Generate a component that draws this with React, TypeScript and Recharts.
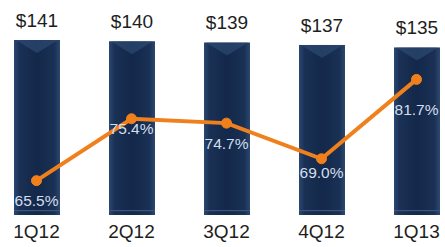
import React from 'react';
import { ComposedChart, Bar, Line, XAxis, YAxis, LabelList } from 'recharts';

const categories = ['1Q12', '2Q12', '3Q12', '4Q12', '1Q13'];
const amounts = [141, 140, 139, 137, 135];
const ratios = [65.5, 75.4, 74.7, 69.0, 81.7];

const data = categories.map((q, i) => ({ q, amount: amounts[i], ratio: ratios[i] }));

const PCT_DY = [20, 10, 20, 14, 30];

const BarShape = (props: any) => {
  const { x, y, width, height } = props;
  if (width == null || height == null) return null;
  return (
    <g>
      <rect x={x} y={y} width={width} height={height} fill="url(#barGrad)" />
      <polygon
        points={`${x + 2},${y} ${x + width - 2},${y} ${x + width / 2},${y + 13}`}
        fill="#3a5a84"
        opacity={0.45}
      />
      <rect x={x} y={y + height - 5} width={width} height={1.2} fill="#3b5679" />
    </g>
  );
};

const PctLabel = (props: any) => {
  const { x, y, value, index } = props;
  return (
    <text
      x={x}
      y={y + PCT_DY[index]}
      textAnchor="middle"
      dominantBaseline="central"
      fill="#d3deec"
      fontSize={15.5}
      fontFamily="Liberation Sans, Arial, sans-serif"
    >
      {Number(value).toFixed(1)}%
    </text>
  );
};

export default function App() {
  return (
    <div style={{ position: 'absolute', left: 0, top: 0, width: 445, height: 247, overflow: 'hidden', background: '#fff' }}>
      <div style={{ position: 'absolute', left: -11.5, top: 0 }}>
        <ComposedChart
          width={475}
          height={247}
          data={data}
          margin={{ top: 40, right: 0, bottom: 2, left: 0 }}
        >
          <defs>
            <linearGradient id="barGrad" x1="0" y1="0" x2="1" y2="0">
              <stop offset="0%" stopColor="#2b4870" />
              <stop offset="12%" stopColor="#1a3155" />
              <stop offset="50%" stopColor="#13284a" />
              <stop offset="88%" stopColor="#1a3155" />
              <stop offset="100%" stopColor="#2b4870" />
            </linearGradient>
          </defs>
          <XAxis
            dataKey="q"
            height={30}
            axisLine={false}
            tickLine={false}
            tickMargin={4}
            tick={{ fontSize: 19, fill: '#1e1e1e', fontFamily: 'Liberation Sans, Arial, sans-serif' }}
          />
          <YAxis yAxisId="left" hide domain={[0, 141]} />
          <YAxis yAxisId="right" hide orientation="right" domain={[60, 88]} />
          <Bar
            yAxisId="left"
            dataKey="amount"
            barSize={46}
            shape={<BarShape />}
            isAnimationActive={false}
          >
            <LabelList
              dataKey="amount"
              position="top"
              offset={13}
              formatter={(v: any) => `$${v}`}
              style={{ fontSize: 19, fill: '#1e1e1e', fontFamily: 'Liberation Sans, Arial, sans-serif' }}
            />
          </Bar>
          <Line
            yAxisId="right"
            dataKey="ratio"
            stroke="#f0801c"
            strokeWidth={4}
            dot={{ r: 5, fill: '#f0801c', stroke: '#f0801c', strokeWidth: 1 }}
            isAnimationActive={false}
          >
            <LabelList dataKey="ratio" content={<PctLabel />} />
          </Line>
        </ComposedChart>
      </div>
    </div>
  );
}
